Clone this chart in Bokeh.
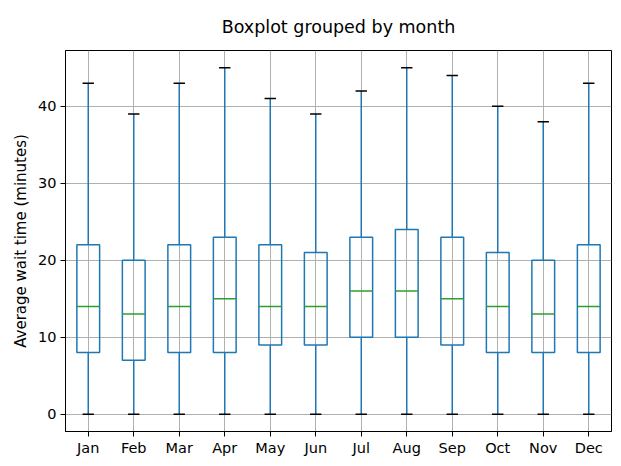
from bokeh.plotting import figure
from bokeh.models import ColumnDataSource, FixedTicker, Range1d
from bokeh.embed import file_html
from bokeh.resources import INLINE

months = ["Jan", "Feb", "Mar", "Apr", "May", "Jun", "Jul", "Aug", "Sep", "Oct", "Nov", "Dec"]
whisker_low = [0, 0, 0, 0, 0, 0, 0, 0, 0, 0, 0, 0]
q1 = [8, 7, 8, 8, 9, 9, 10, 10, 9, 8, 8, 8]
median = [14, 13, 14, 15, 14, 14, 16, 16, 15, 14, 13, 14]
q3 = [22, 20, 22, 23, 22, 21, 23, 24, 23, 21, 20, 22]
whisker_high = [43, 39, 43, 45, 41, 39, 42, 45, 44, 40, 38, 43]
y_ticks = [0, 10, 20, 30, 40]

pos = list(range(1, len(months) + 1))
box_w = 0.5
cap_w = 0.25

src = ColumnDataSource(dict(
    x=pos,
    x0=[p - box_w / 2 for p in pos], x1=[p + box_w / 2 for p in pos],
    c0=[p - cap_w / 2 for p in pos], c1=[p + cap_w / 2 for p in pos],
    lo=whisker_low, q1=q1, med=median, q3=q3, hi=whisker_high,
))

FONT = "DejaVu Sans"
BLUE = "#1f77b4"

p = figure(width=613, height=458, output_backend="svg", toolbar_location=None,
           x_range=Range1d(0.5, 12.5), y_range=Range1d(-2.25, 47.25),
           min_border_left=65, min_border_right=2, min_border_top=50, min_border_bottom=23)

p.title.text = "Boxplot grouped by month"
p.title.align = "center"
p.title.text_font = FONT
p.title.text_font_size = "17.5px"
p.title.text_font_style = "normal"
p.title.text_color = "#000000"
p.title.standoff = 28

# whiskers
p.segment(x0="x", y0="q3", x1="x", y1="hi", source=src, line_color=BLUE, line_width=1.5)
p.segment(x0="x", y0="q1", x1="x", y1="lo", source=src, line_color=BLUE, line_width=1.5)
# boxes
p.quad(left="x0", right="x1", bottom="q1", top="q3", source=src,
       fill_color="white", fill_alpha=0.0, line_color=BLUE, line_width=1.5)
# medians
p.segment(x0="x0", y0="med", x1="x1", y1="med", source=src, line_color="#2ca02c", line_width=1.5)
# caps
p.segment(x0="c0", y0="hi", x1="c1", y1="hi", source=src, line_color="black", line_width=1.5)
p.segment(x0="c0", y0="lo", x1="c1", y1="lo", source=src, line_color="black", line_width=1.5)

p.xaxis.ticker = FixedTicker(ticks=pos)
p.xaxis.major_label_overrides = {i: m for i, m in zip(pos, months)}
p.yaxis.ticker = FixedTicker(ticks=y_ticks)
p.yaxis.axis_label = "Average wait time (minutes)"

for ax in (p.xaxis, p.yaxis):
    ax.major_label_text_font = FONT
    ax.major_label_text_font_size = "14.5px"
    ax.major_label_text_color = "black"
    ax.axis_label_text_font = FONT
    ax.axis_label_text_font_size = "15px"
    ax.axis_label_text_font_style = "normal"
    ax.axis_label_text_color = "black"
    ax.major_tick_in = 0
    ax.major_tick_out = 5
    ax.major_tick_line_color = "black"
    ax.minor_tick_line_color = None
    ax.axis_line_color = "black"
    ax.major_label_standoff = 4

p.xaxis.major_label_standoff = 3
p.yaxis.axis_label_standoff = 5

p.grid.grid_line_color = "#b0b0b0"
p.grid.grid_line_width = 1
p.background_fill_color = "white"
p.border_fill_color = "white"
p.outline_line_color = "black"
p.outline_line_alpha = 1
p.outline_line_width = 1

open("out.html", "w").write(file_html(p, INLINE))
